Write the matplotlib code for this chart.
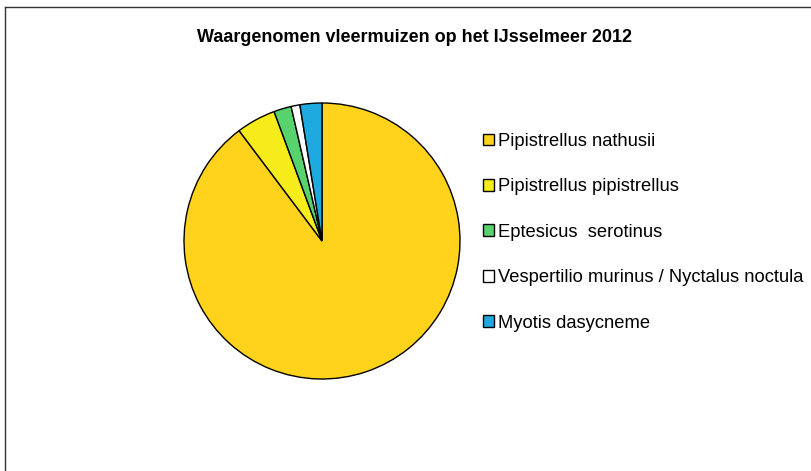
import matplotlib
matplotlib.use("Agg")
import matplotlib.pyplot as plt
from matplotlib.patches import Patch
from matplotlib.lines import Line2D

species = ["Pipistrellus nathusii", "Pipistrellus pipistrellus", "Eptesicus  serotinus",
           "Vespertilio murinus / Nyctalus noctula", "Myotis dasycneme"]
values = [350, 18, 8, 4, 10]
colors = ["#FFD21C", "#F6EC1C", "#58D26C", "#FFFFFF", "#1EAADF"]
title = "Waargenomen vleermuizen op het IJsselmeer 2012"

plt.rcParams['font.family'] = ['Liberation Sans', 'DejaVu Sans']
W, H = 812, 471
fig = plt.figure(figsize=(W/100, H/100), dpi=100)

cx, cy, r = 322, 241, 138
ax = fig.add_axes([(cx - r)/W, (H - cy - r)/H, 2*r/W, 2*r/H])
wedges, _ = ax.pie(values, colors=colors, startangle=90, counterclock=False,
                   wedgeprops=dict(edgecolor="black", linewidth=1.0))
ax.set_xlim(-1, 1)
ax.set_ylim(-1, 1)
ax.set_aspect('equal')
ax.axis('off')

fig.text(415/W, 1 - 38/H, title, ha='center', va='center', fontsize=13, fontweight='bold')

handles = [Patch(facecolor=c, edgecolor='black', linewidth=1.0) for c in colors]
leg = fig.legend(handles, species, loc='upper left', bbox_to_anchor=(483/W, 1 - 133/H),
                 frameon=False, fontsize=13.2, handlelength=0.62, handleheight=0.62,
                 handletextpad=0.2, labelspacing=1.55, borderaxespad=0, borderpad=0)

# frame lines
fig.add_artist(Line2D([5/W, 5/W], [0, 1 - 7/H], color='#333333', linewidth=1.0))
fig.add_artist(Line2D([5/W, 1], [1 - 7/H, 1 - 7/H], color='#333333', linewidth=1.0))

fig.savefig("out.png", dpi=100)
